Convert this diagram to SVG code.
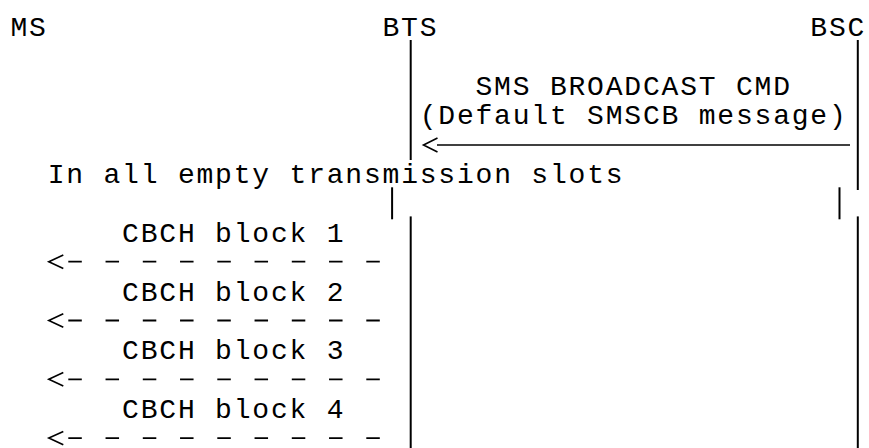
<svg xmlns="http://www.w3.org/2000/svg" width="869" height="448" viewBox="0 0 869 448">
<style>
  .t { font-family: "Liberation Mono", "DejaVu Sans Mono", monospace; font-size: 28px; letter-spacing: 1.8px; fill: #000; }
  .life { stroke: #000; stroke-width: 2; fill: none; }
  .msg { stroke: #000; stroke-width: 1.6; fill: none; }
  .dash { stroke: #000; stroke-width: 1.8; fill: none; stroke-dasharray: 13.5 23.75; }
  .head { stroke: #000; stroke-width: 1.6; fill: none; stroke-linejoin: miter; }
</style>
<rect width="869" height="448" fill="#fff"/>
<g id="node-ms"><text class="t" x="10.5" y="36">MS</text></g>
<g id="node-bts"><text class="t" x="382.5" y="36">BTS</text></g>
<g id="node-bsc"><text class="t" x="810.3" y="36">BSC</text></g>
<g id="connectors">
  <line class="life" x1="410.7" y1="40" x2="410.7" y2="160"/>
  <line class="life" x1="392.1" y1="187.3" x2="392.1" y2="219.3"/>
  <line class="life" x1="410.7" y1="216.4" x2="410.7" y2="448"/>
  <line class="life" x1="857.8" y1="40" x2="857.8" y2="190"/>
  <line class="life" x1="839.5" y1="187.3" x2="839.5" y2="219.3"/>
  <line class="life" x1="857.8" y1="216.4" x2="857.8" y2="448"/>
  <g id="msg-sms-broadcast">
    <line class="msg" x1="437" y1="145" x2="850" y2="145"/>
    <polyline class="head" points="437.5,138 423.5,145 437.5,152"/>
  </g>
  <g id="msg-cbch1">
    <line class="dash" x1="68.3" y1="261.7" x2="380" y2="261.7"/>
    <polyline class="head" points="63.3,255 48.8,261.7 63.3,268.4"/>
  </g>
  <g id="msg-cbch2">
    <line class="dash" x1="68.3" y1="320.5" x2="380" y2="320.5"/>
    <polyline class="head" points="63.3,313.8 48.8,320.5 63.3,327.2"/>
  </g>
  <g id="msg-cbch3">
    <line class="dash" x1="68.3" y1="379.3" x2="380" y2="379.3"/>
    <polyline class="head" points="63.3,372.6 48.8,379.3 63.3,386"/>
  </g>
  <g id="msg-cbch4">
    <line class="dash" x1="68.3" y1="438.1" x2="380" y2="438.1"/>
    <polyline class="head" points="63.3,431.4 48.8,438.1 63.3,444.8"/>
  </g>
</g>
<g id="labels">
  <text class="t" x="475.5" y="94.8">SMS BROADCAST CMD</text>
  <text class="t" x="419.7" y="124.2">(Default SMSCB message)</text>
  <text class="t" x="47.7" y="183">In all empty transmission slots</text>
  <text class="t" x="122.1" y="241.8">CBCH block 1</text>
  <text class="t" x="122.1" y="300.6">CBCH block 2</text>
  <text class="t" x="122.1" y="359.4">CBCH block 3</text>
  <text class="t" x="122.1" y="418.2">CBCH block 4</text>
</g>
</svg>
